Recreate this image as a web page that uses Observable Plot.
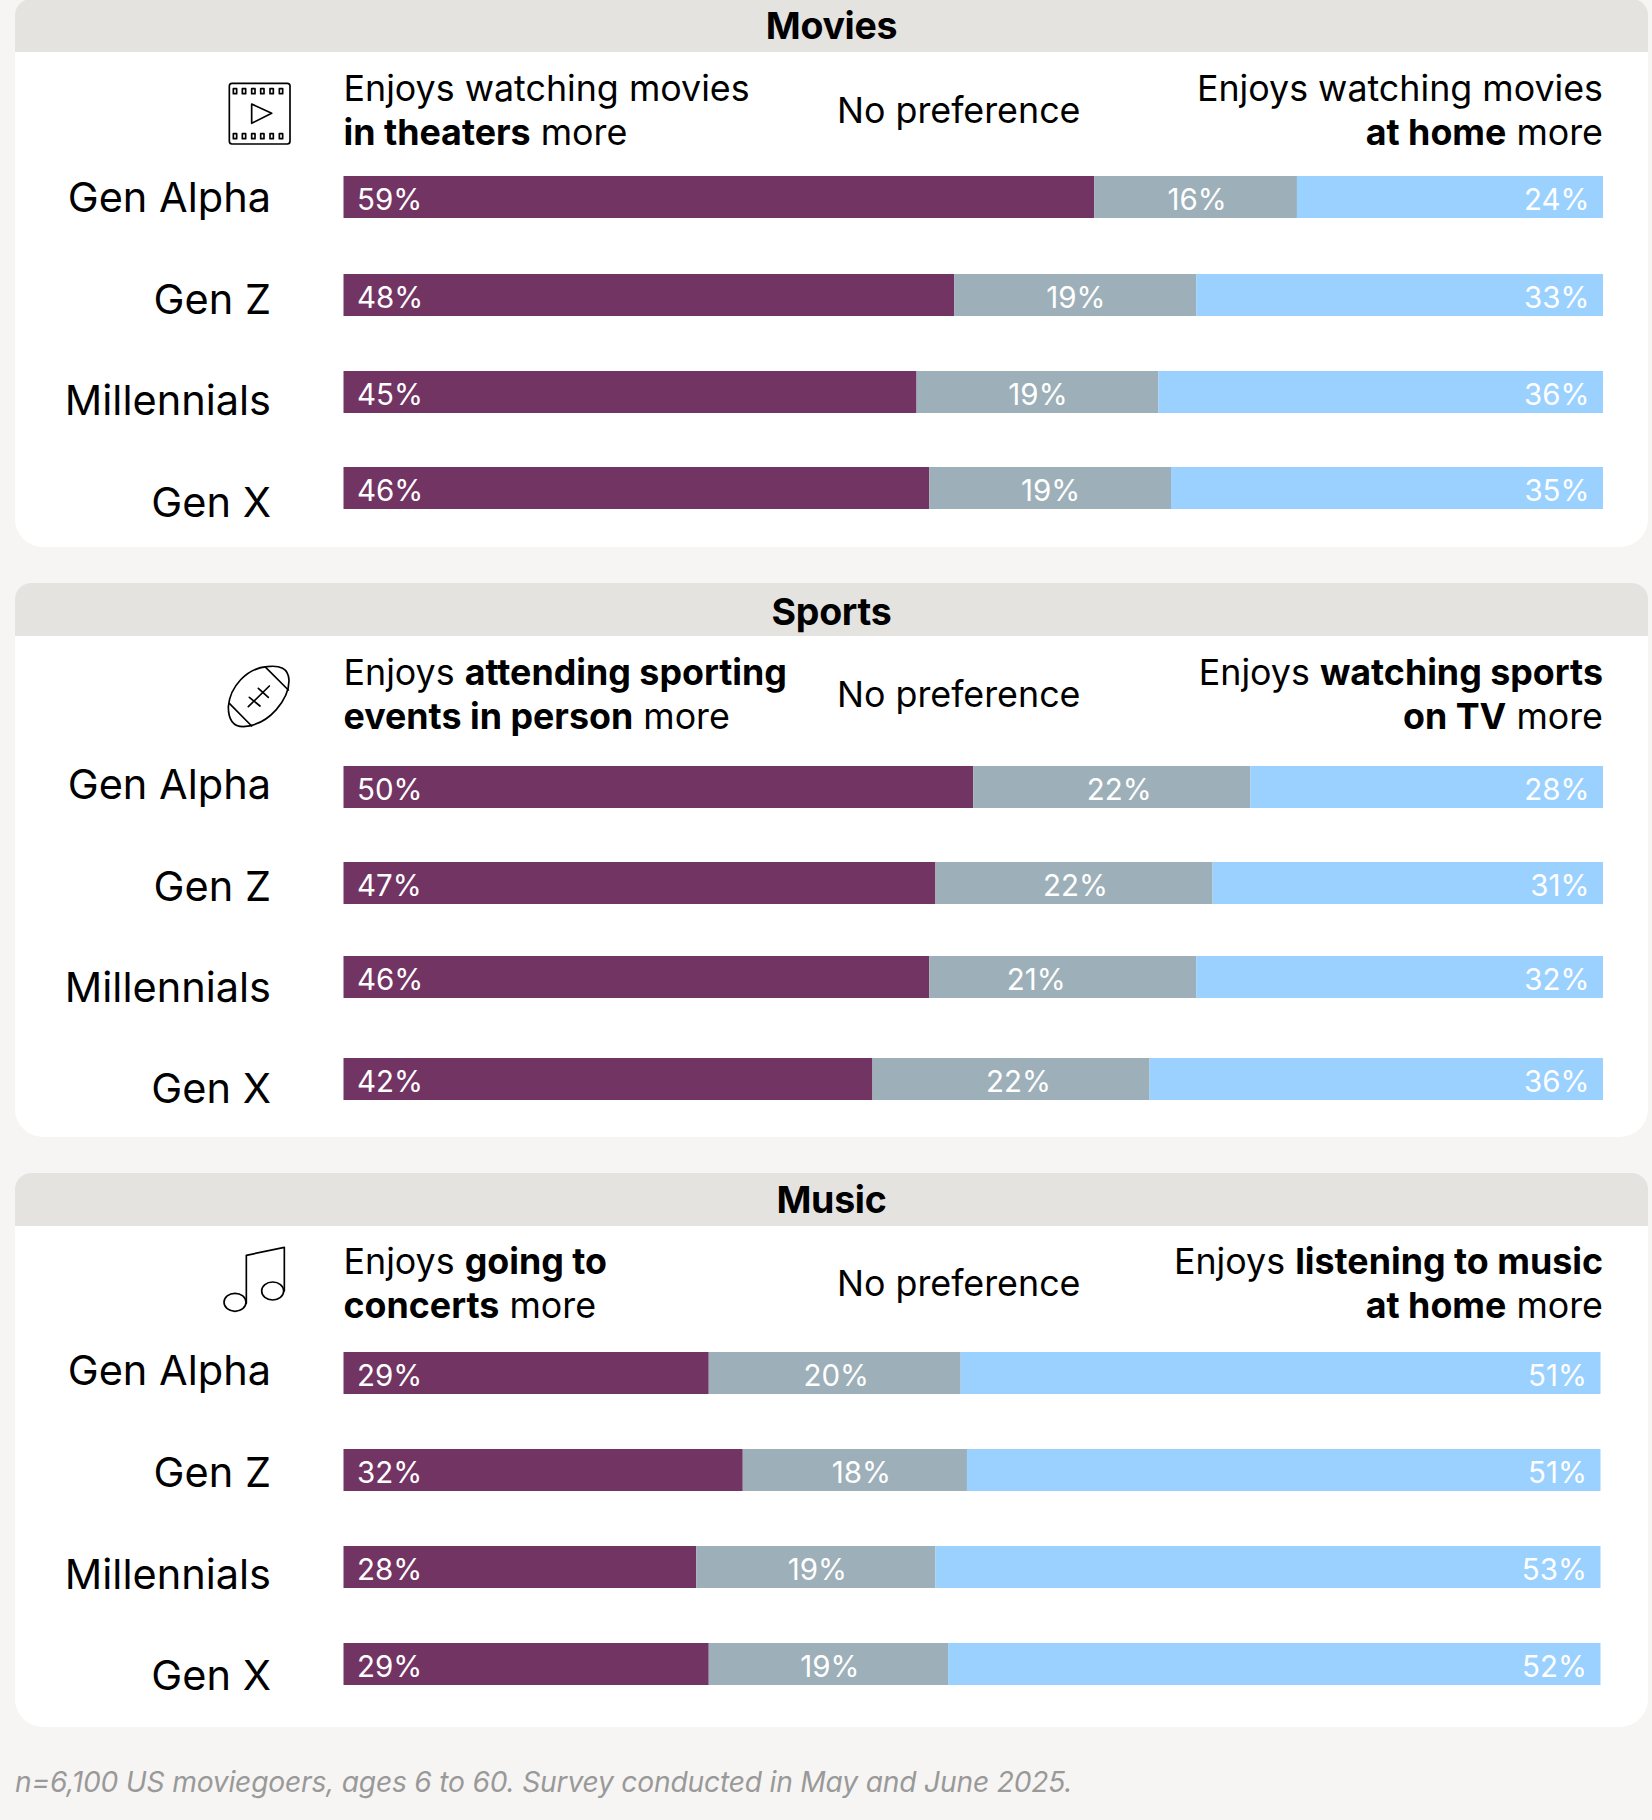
<!DOCTYPE html>
<html><head><meta charset="utf-8">
<script src="https://cdn.jsdelivr.net/npm/d3@7"></script>
<script src="https://cdn.jsdelivr.net/npm/@observablehq/plot@0.6"></script>
<style>
html,body{margin:0;padding:0;background:#f6f5f3;}
body{position:relative;width:1652px;height:1820px;overflow:hidden;font-family:Inter,sans-serif;color:#000;}
.card{position:absolute;left:15px;width:1633px;background:#fff;border-radius:16px 16px 28px 28px;}
.head{position:absolute;left:15px;width:1633px;background:#e4e3e0;border-radius:16px 16px 0 0;text-align:center;font-weight:700;font-size:37.5px;letter-spacing:-.3px;z-index:3;}
.col{position:absolute;font-size:35.8px;line-height:44px;white-space:nowrap;z-index:3;}
.col b{font-weight:700;}
.icon{position:absolute;left:200px;z-index:3;fill:none;stroke:#000;stroke-width:5;stroke-linecap:round;stroke-linejoin:round;}
#note{position:absolute;left:15px;top:1764px;font-style:italic;color:#999;font-size:28.2px;line-height:36px;letter-spacing:-.2px;white-space:nowrap;}
</style></head><body>
<script>
const generations = ["Gen Alpha","Gen Z","Millennials","Gen X"];
const seriesNames = ["First","None","Second"];
const seriesColors = ["#723463","#9dafb8","#9ad1ff"];
const panelTitles = ["Movies","Sports","Music"];

// Segment sizes (% of the bar length) and printed labels
const moviesFirst = [59.6,48.5,45.5,46.5], moviesNone = [16.1,19.2,19.2,19.2], moviesSecond = [24.3,32.3,35.3,34.3];
const moviesFirstLabels = [59,48,45,46], moviesNoneLabels = [16,19,19,19], moviesSecondLabels = [24,33,36,35];
const sportsFirst = [50.0,47.0,46.5,42.0], sportsNone = [22.0,22.0,21.2,22.0], sportsSecond = [28.0,31.0,32.3,36.0];
const sportsFirstLabels = [50,47,46,42], sportsNoneLabels = [22,22,21,22], sportsSecondLabels = [28,31,32,36];
const musicFirst = [29.0,31.7,28.0,29.0], musicNone = [20.0,17.8,19.0,19.0], musicSecond = [50.8,50.3,52.8,51.8];
const musicFirstLabels = [29,32,28,29], musicNoneLabels = [20,18,19,19], musicSecondLabels = [51,51,53,52];

const headers = [
  ["Enjoys watching movies<br><b>in theaters</b> more","Enjoys watching movies<br><b>at home</b> more"],
  ["Enjoys <b>attending sporting<br>events in person</b> more","Enjoys <b>watching sports<br>on TV</b> more"],
  ["Enjoys <b>going to<br>concerts</b> more","Enjoys <b>listening to music<br>at home</b> more"]
];
const noPref = "No preference";
const note = "n=6,100 US moviegoers, ages 6 to 60. Survey conducted in May and June 2025.";

const panelValues = [
  [moviesFirst,moviesNone,moviesSecond,moviesFirstLabels,moviesNoneLabels,moviesSecondLabels],
  [sportsFirst,sportsNone,sportsSecond,sportsFirstLabels,sportsNoneLabels,sportsSecondLabels],
  [musicFirst,musicNone,musicSecond,musicFirstLabels,musicNoneLabels,musicSecondLabels]
];

// layout
const layout = [
  {top:-1, bottom:547, barsTop:176, barNudge:[0,1,1,0], labelNudge:[1.5,6.5,10.5,15.5], midNudge:[1,0,0,0], titleLine:54, colY:65.5, prefY:87.5, iconTop:70, iconH:160},
  {top:583,bottom:1137,barsTop:766, barNudge:[0,-1,-4,1], labelNudge:[-2,3,7.5,11], midNudge:[7,1,-27,7], titleLine:58, colY:649.5, prefY:671.5, iconTop:640, iconH:110},
  {top:1173,bottom:1727,barsTop:1352,barNudge:[0,0,0,0], labelNudge:[-1.5,3,8,12], midNudge:[1,6,1,1], titleLine:54, colY:1238.5, prefY:1260.5, iconTop:1230, iconH:110}
];
const barL = 343.5, barR = 1603, step = 97.1, barH = 42;

const icons = [
`<rect x="88" y="40" width="182" height="182" rx="8"/><path d="M155 102L215 130L155 160Z"/>`+
 [105,132,160,187,215,243].map(x=>`<rect x="${x-5}" y="56" width="10" height="15"/><rect x="${x-5}" y="191" width="10" height="15"/>`).join(""),
`<path d="M200 80C240 75 265 85 267 120C268 175 210 255 130 260C100 260 85 240 85 200C90 140 140 85 200 80Z"/><path d="M197 82L265 150M88 190L155 258M145 200L208 138M148 172L180 198M175 145L205 172"/>`,
`<ellipse cx="105" cy="217" rx="33" ry="27"/><ellipse cx="218" cy="183" rx="33" ry="27"/><path d="M139 220V76L253 52V183"/>`
];

const add = (cls,style,html)=>{const d=document.createElement("div");d.className=cls;d.style.cssText=style;d.innerHTML=html;document.body.appendChild(d);return d;};

panelTitles.forEach((title,p)=>{
  const L = layout[p], [f,n,s,fl,nl,sl] = panelValues[p];
  const h = L.bottom - L.top;
  add("card",`top:${L.top}px;height:${h}px`,"");
  add("head",`top:${L.top}px;height:53px;line-height:${L.titleLine}px`,title);
  add("col",`left:${barL}px;top:${L.colY}px`,headers[p][0]);
  add("col",`right:${1652-barR}px;top:${L.colY}px;text-align:right`,headers[p][1]);
  add("col",`left:837px;top:${L.prefY}px`,noPref);
  const ic=document.createElementNS("http://www.w3.org/2000/svg","svg");
  ic.setAttribute("class","icon");ic.setAttribute("width",150);ic.setAttribute("height",L.iconH);
  ic.setAttribute("viewBox",`0 0 450 ${L.iconH*3}`);ic.style.top=L.iconTop+"px";ic.innerHTML=icons[p];
  document.body.appendChild(ic);

  const table = generations.flatMap((g,i)=>[
    {gen:g,series:seriesNames[0],value:f[i],label:fl[i]+"%",i},
    {gen:g,series:seriesNames[1],value:n[i],label:nl[i]+"%",i},
    {gen:g,series:seriesNames[2],value:s[i],label:sl[i]+"%",i}
  ]);
  const pct = {y:"gen",text:"label",fill:"#fff",fontSize:29.5};
  const marks = generations.flatMap((g,i)=>{
    const dy = L.barNudge[i];
    const row = table.filter(d=>d.i===i);
    return [
      Plot.barX(row,Plot.stackX({x:"value",y:"gen",fill:"series",order:seriesNames,dy})),
      Plot.text([row[0]],{...pct,x:0,textAnchor:"start",dx:13,dy:dy+3}),
      Plot.text([row[1]],{...pct,x:()=>f[i]+n[i]/2,dx:L.midNudge[i],dy:dy+3}),
      Plot.text([row[2]],{...pct,x:()=>f[i]+n[i]+s[i],textAnchor:"end",dx:-14,dy:dy+3}),
      Plot.text([g],{x:0,y:d=>d,text:d=>d,textAnchor:"end",dx:-73,dy:L.labelNudge[i],fill:"#000",fontSize:41.5})
    ];
  });
  const chart = Plot.plot({
    width:1652,height:h,
    marginLeft:barL,marginRight:1652-barR,
    marginTop:L.barsTop-L.top,marginBottom:h-(L.barsTop-L.top)-(3*step+barH),
    style:{background:"transparent",fontFamily:"Inter, sans-serif"},
    x:{domain:[0,100],axis:null},
    y:{domain:generations,axis:null,paddingInner:1-barH/step,paddingOuter:0},
    color:{domain:seriesNames,range:seriesColors},
    marks
  });
  chart.style.position="absolute";chart.style.top=L.top+"px";chart.style.left="0";chart.style.zIndex=2;chart.style.maxWidth="none";
  document.body.appendChild(chart);
});
const nd=document.createElement("div");nd.id="note";nd.textContent=note;document.body.appendChild(nd);
</script>
</body></html>
